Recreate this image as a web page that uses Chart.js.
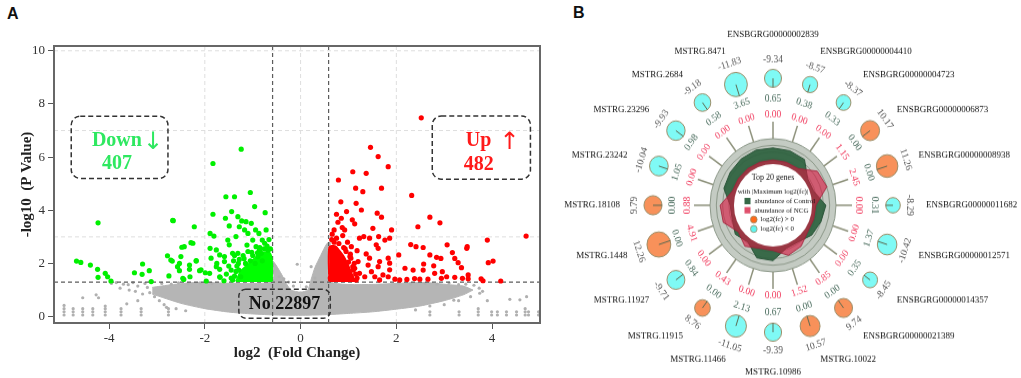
<!DOCTYPE html>
<html>
<head>
<meta charset="utf-8">
<script src="https://cdn.jsdelivr.net/npm/chart.js@4/dist/chart.umd.min.js"></script>
<style>
  html, body { margin: 0; padding: 0; background: #fff; width: 1021px; height: 378px; overflow: hidden; }
  .tag { position: absolute; font: bold 16px "Liberation Sans", Arial, sans-serif; color: #111; }
  #volcano { position: absolute; left: 0; top: 0; }
  #radial { position: absolute; left: 560px; top: 0; transform: scaleY(1.058); transform-origin: 0 0; }
</style>
</head>
<body>
<div class="tag" style="left:7px;top:5px">A</div>
<div class="tag" style="left:573px;top:4px">B</div>
<canvas id="volcano" width="550" height="378"></canvas>
<canvas id="radial" width="461" height="357"></canvas>
<script>
// ---------- panel A : volcano plot ----------
let xTicks = [-4, -2, 0, 2, 4];
let yTicks = [0, 2, 4, 6, 8, 10];
let xLimits = [-5.15, 5.0];
let yLimits = [-0.24, 10.18];
let gridX = [-2, 0, 2];
let gridY = [3, 7, 10];
let fcCut = 0.585; // log2(1.5)
let pCut = 1.301; // -log10(0.05)
let nDown = 407;
let nUp = 482;
let nNo = 22897;

let downPts = [
  [-4.68, 2.09], [-4.59, 2.04], [-4.39, 1.94], [-4.23, 3.53], [-4.24, 1.78], [-4.23, 1.48],
  [-4.08, 1.63], [-4.03, 1.5], [-3.96, 1.34], [-3.47, 1.65], [-3.3, 1.98], [-3.31, 1.59],
  [-3.16, 1.73], [-3.12, 1.32], [-2.78, 2.29], [-2.75, 1.53], [-2.67, 3.62], [-2.68, 2.09],
  [-2.53, 2.0], [-2.53, 1.73], [-2.48, 2.61], [-2.44, 1.4], [-2.32, 1.78], [-2.31, 1.5],
  [-2.29, 2.78], [-2.22, 3.38], [-2.18, 2.09], [-2.11, 1.73], [-1.99, 1.65], [-1.97, 1.34],
  [-1.89, 3.13], [-1.83, 3.85], [-1.83, 5.76], [-1.81, 3.03], [-1.76, 2.51], [-1.75, 2.0],
  [-1.69, 1.78], [-1.68, 1.48], [-1.59, 2.26], [-1.57, 3.7], [-1.56, 4.51], [-1.52, 2.88],
  [-1.49, 3.41], [-1.44, 3.95], [-1.42, 2.38], [-1.38, 4.51], [-1.35, 3.01], [-1.31, 3.76],
  [-1.29, 1.75], [-1.28, 3.38], [-1.24, 6.3], [-1.23, 3.6], [-1.17, 3.26], [-1.14, 3.57],
  [-1.12, 2.69], [-1.1, 3.13], [-1.05, 4.67], [-1.03, 3.51], [-1.0, 2.88], [-0.96, 4.14],
  [-0.94, 3.26], [-0.93, 2.63], [-0.89, 2.26], [-0.87, 3.13], [-0.82, 2.38], [-0.8, 2.88],
  [-0.75, 2.76], [-0.74, 3.91], [-0.72, 3.26], [-2.66, 3.61], [-2.43, 2.63], [-1.89, 2.57],
  [-1.49, 2.7], [-2.25, 2.76], [-1.69, 2.32], [-1.31, 2.38], [-2.5, 2.26], [-2.18, 2.11],
  [-1.87, 2.2], [-1.59, 2.07], [-2.57, 1.88], [-2.32, 1.94], [-2.08, 1.76], [-1.9, 1.63],
  [-1.76, 1.88], [-1.69, 1.5], [-2.71, 2.13], [-2.46, 1.44], [-1.55, 1.6], [-1.5, 1.9],
  [-1.45, 1.45], [-1.4, 2.1], [-1.35, 1.7], [-1.3, 2.0], [-1.25, 1.5], [-1.2, 2.3],
  [-1.15, 2.0], [-1.1, 2.45], [-1.05, 2.1], [-1.0, 2.3], [-0.95, 2.0], [-0.9, 2.4],
  [-0.85, 2.6], [-0.8, 2.1], [-0.7, 2.65], [-0.66, 2.9], [-0.63, 2.55], [-1.6, 1.35],
  [-1.45, 1.75], [-1.38, 2.3], [-1.42, 1.38], [-1.38, 1.52], [-1.33, 1.9], [-1.28, 2.15],
  [-1.18, 2.18], [-1.02, 2.42], [-0.86, 2.5], [-0.76, 2.55], [-0.68, 2.5]
];

let upPts = [
  [2.52, 7.48], [1.46, 6.37], [1.62, 6.02], [1.83, 5.64], [1.09, 5.45], [1.37, 5.39],
  [0.79, 5.14], [1.15, 4.83], [1.3, 4.7], [1.69, 4.83], [2.32, 4.56], [0.84, 4.32],
  [1.16, 4.26], [0.85, 3.7], [0.96, 3.95], [1.27, 4.01], [1.6, 3.89], [1.69, 3.74],
  [1.08, 3.64], [1.13, 3.49], [1.51, 3.32], [1.9, 3.26], [2.45, 3.38], [0.7, 3.26],
  [0.92, 3.26], [1.23, 2.95], [1.32, 3.01], [1.44, 2.95], [1.63, 3.01], [1.76, 2.88],
  [1.86, 2.95], [2.3, 2.71], [2.41, 2.63], [2.56, 2.6], [1.06, 2.63], [1.18, 2.48],
  [1.58, 2.7], [1.62, 2.57], [1.37, 2.36], [1.03, 2.26], [1.2, 2.07], [1.44, 2.2],
  [1.65, 2.07], [1.83, 2.2], [1.86, 2.01], [2.05, 2.32], [2.57, 1.98], [1.09, 1.88],
  [1.41, 1.94], [1.62, 1.88], [1.48, 1.69], [1.86, 1.76], [2.18, 1.82], [1.23, 1.63],
  [1.34, 1.5], [1.55, 1.5], [1.72, 1.57], [1.83, 1.5], [1.97, 1.41], [2.07, 1.38],
  [2.38, 1.43], [2.49, 1.41], [1.06, 1.5], [1.16, 1.38], [0.99, 1.69], [1.65, 1.38],
  [2.7, 3.74], [2.91, 3.53], [3.06, 2.7], [3.48, 2.63], [3.9, 2.88], [4.71, 3.03],
  [3.17, 2.41], [3.92, 2.03], [4.02, 2.09], [2.7, 2.32], [2.84, 2.23], [2.93, 2.19],
  [3.22, 2.19], [3.29, 2.03], [3.36, 1.84], [2.78, 1.91], [2.96, 1.69], [2.8, 1.63],
  [3.05, 1.5], [3.22, 1.48], [3.38, 1.44], [3.5, 1.57], [3.5, 1.42], [3.77, 1.42],
  [3.81, 1.35], [4.18, 1.34], [2.66, 1.41], [2.94, 1.44], [3.47, 2.57], [2.22, 1.4],
  [2.56, 1.75], [2.35, 1.75], [0.62, 1.45], [0.65, 2.9], [0.7, 2.8], [0.75, 2.95],
  [0.8, 2.75], [0.9, 2.6], [0.95, 2.45], [1.0, 2.05], [1.05, 2.2], [1.1, 1.75],
  [1.12, 2.0], [1.15, 1.6], [0.88, 3.05], [0.98, 2.8], [0.66, 3.1], [0.78, 3.55],
  [0.87, 3.35], [0.75, 3.85], [1.18, 1.45], [1.13, 1.82], [1.04, 2.35], [0.93, 2.55]
];

let noPts = [
  [-4.94, 0.06], [-4.94, 0.18], [-4.94, 0.3], [-4.94, 0.42], [-4.75, 0.06], [-4.75, 0.18],
  [-4.75, 0.3], [-4.55, 0.06], [-4.55, 0.18], [-4.55, 0.3], [-4.34, 0.06], [-4.34, 0.18],
  [-4.34, 0.3], [-4.08, 0.06], [-4.08, 0.18], [-4.08, 0.3], [-4.08, 0.4], [-3.75, 0.06],
  [-3.75, 0.18], [-3.75, 0.3], [-3.33, 0.06], [-3.33, 0.18], [-3.33, 0.3], [-2.76, 0.06],
  [-2.76, 0.18], [-2.76, 0.3], [2.7, 0.06], [2.7, 0.18], [3.31, 0.06], [3.31, 0.18],
  [3.71, 0.06], [3.71, 0.18], [3.71, 0.3], [3.99, 0.06], [3.99, 0.18], [4.11, 0.06],
  [4.11, 0.18], [4.3, 0.06], [4.3, 0.18], [4.51, 0.06], [4.51, 0.18], [4.69, 0.06],
  [4.69, 0.18], [4.69, 0.3], [4.76, 0.06], [4.76, 0.18], [4.97, 0.06], [4.97, 0.18],
  [-4.55, 0.71], [-4.22, 0.71], [-4.27, 0.82], [-3.63, 0.48], [-3.77, 1.07], [-3.58, 1.0],
  [-3.85, 1.28], [-3.6, 1.2], [-3.4, 1.15], [-3.3, 0.85], [-3.2, 1.1], [-3.15, 0.9],
  [-3.25, 1.25], [-3.45, 0.95], [-2.95, 0.6], [-3.4, 0.6], [-2.85, 0.45], [-3.05, 0.75],
  [-3.5, 1.28], [-3.7, 1.22], [-3.95, 1.25], [4.58, 0.63], [4.37, 0.65], [4.72, 0.75],
  [3.73, 1.07], [3.74, 0.88], [3.9, 0.6], [3.62, 1.18], [3.45, 1.22], [3.55, 0.75],
  [3.2, 0.62], [3.8, 0.95], [-0.07, 1.97], [0.22, 1.88], [-0.45, 1.5], [-0.35, 1.42],
  [0.3, 1.45], [0.12, 1.12], [-0.15, 1.15], [-0.25, 1.3], [-2.9, 1.25], [-2.7, 1.22],
  [-2.55, 1.27], [-2.35, 1.24], [-2.1, 1.27], [-1.85, 1.25], [2.05, 1.26], [2.3, 1.23],
  [2.6, 1.25], [2.85, 1.22], [3.1, 1.26], [3.3, 1.2], [-2.8, 0.35], [-2.6, 0.3],
  [-2.4, 0.22], [2.4, 0.25], [2.7, 0.4], [3.0, 0.45], [3.3, 0.6]
];

// outline of the dense grey cloud (upper and lower edge)
let noCloudTop = [
  [-3.1, 1.1], [-2.7, 1.2], [-2.2, 1.28], [-0.585, 1.3], [-0.585, 2.1], [-0.5, 1.9],
  [-0.4, 1.6], [-0.3, 1.25], [-0.2, 1.0], [0.0, 0.92], [0.15, 1.0], [0.22, 1.4],
  [0.3, 1.85], [0.42, 2.3], [0.55, 2.75], [0.62, 2.8], [0.62, 1.3], [2.6, 1.28],
  [3.1, 1.2], [3.4, 1.15], [3.6, 1.0]
];
let noCloudBottom = [
  [-3.1, 0.85], [-2.5, 0.5], [-2.0, 0.3], [-1.5, 0.17], [-1.0, 0.1], [-0.5, 0.06],
  [0.0, 0.05], [0.5, 0.07], [1.0, 0.12], [1.5, 0.18], [2.0, 0.28], [2.5, 0.4],
  [3.0, 0.6], [3.4, 0.82], [3.6, 1.0]
];
// dense cores of the coloured clouds (upper edge, filled down to the p cut)
let downCore = [
  [-1.35, 1.32], [-1.25, 1.7], [-1.1, 1.95], [-0.95, 2.2], [-0.8, 2.4], [-0.65, 2.4],
  [-0.6, 2.1], [-0.6, 1.32]
];
let upCore = [
  [0.6, 1.32], [0.6, 2.6], [0.72, 2.65], [0.82, 2.45], [0.92, 2.2], [1.0, 1.9],
  [1.08, 1.55], [1.12, 1.32]
];

// ---------- panel B : top 20 genes ----------
let genes = [
  "ENSBGRG00000002839", "ENSBGRG00000004410", "ENSBGRG00000004723", "ENSBGRG00000006873",
  "ENSBGRG00000008938", "ENSBGRG00000011682", "ENSBGRG00000012571", "ENSBGRG00000014357",
  "ENSBGRG00000021389", "MSTRG.10022", "MSTRG.10986", "MSTRG.11466", "MSTRG.11915",
  "MSTRG.11927", "MSTRG.1448", "MSTRG.18108", "MSTRG.23242", "MSTRG.23296", "MSTRG.2684",
  "MSTRG.8471"
];
let log2fc = [-9.34, -8.57, -8.37, 10.17, 11.26, -8.29, -10.42, -8.45, 9.74, 10.57,
  -9.39, -11.05, 8.76, -9.71, 12.26, 9.79, -10.04, -9.93, -9.18, -11.83];
let ctrlAbund = [0.65, 0.38, 0.33, 0.0, 0.0, 0.31, 1.37, 0.35, 0.0, 0.0,
  0.67, 2.13, 0.0, 0.84, 0.0, 0.0, 1.05, 0.98, 0.58, 3.65];
let ncgAbund = [0.0, 0.0, 0.0, 1.15, 2.45, 0.0, 0.0, 0.0, 0.85, 1.52,
  0.0, 0.0, 0.43, 0.0, 4.91, 0.88, 0.0, 0.0, 0.0, 0.0];
// polygon levels as drawn in the rings (0 = inner hub edge, 4 = outer ring)
let ctrlRadar = [2.6, 2.6, 2.5, 0.8, 0.8, 2.4, 2.0, 1.6, 0.8, 0.8,
  2.3, 2.3, 0.8, 1.4, 0.8, 0.8, 2.2, 2.4, 2.6, 2.7];
let ncgRadar = [0.8, 0.8, 0.8, 2.7, 3.0, 0.8, 0.8, 0.8, 1.6, 1.9,
  0.8, 0.8, 1.6, 0.8, 2.3, 2.4, 0.8, 0.8, 0.8, 0.8];

let serif = '"Liberation Serif", "Times New Roman", serif';

let xy = (arr) => arr.map((p) => ({ x: p[0], y: p[1] }));

let lineSet = (pts, color, dash, width, order) => {
  return {
    type: "line",
    data: xy(pts),
    showLine: true,
    borderColor: color,
    borderWidth: width,
    borderDash: dash,
    pointRadius: 0,
    fill: false,
    tension: 0,
    order: order,
  };
};

let roundBox = (ctx, x0, y0, x1, y1, r) => {
  ctx.beginPath();
  ctx.moveTo(x0 + r, y0);
  ctx.lineTo(x1 - r, y0);
  ctx.arcTo(x1, y0, x1, y0 + r, r);
  ctx.lineTo(x1, y1 - r);
  ctx.arcTo(x1, y1, x1 - r, y1, r);
  ctx.lineTo(x0 + r, y1);
  ctx.arcTo(x0, y1, x0, y1 - r, r);
  ctx.lineTo(x0, y0 + r);
  ctx.arcTo(x0, y0, x0 + r, y0, r);
  ctx.closePath();
};

// note boxes, in axis units
let noteBoxes = [
  { x0: -4.79, x1: -2.77, y0: 7.54, y1: 5.2, word: "Down", arrow: "\u2193", gap: 1, count: nDown, color: "#2ee860" },
  { x0: 2.75, x1: 4.8, y0: 7.55, y1: 5.17, word: "Up", arrow: "\u2191", gap: 8, count: nUp, color: "#ff1a1a" },
];

let volcanoNotes = {
  id: "volcanoNotes",
  afterDatasetsDraw(chart) {
    let { ctx, chartArea: a } = chart;
    let sx = chart.scales.x;
    let sy = chart.scales.y;
    ctx.save();
    ctx.strokeStyle = "#676767";
    ctx.lineWidth = 2;
    ctx.strokeRect(a.left, a.top, a.right - a.left, a.bottom - a.top);

    ctx.setLineDash([5, 3]);
    ctx.lineWidth = 1.5;
    ctx.strokeStyle = "#333";
    for (const b of noteBoxes) {
      let x0 = sx.getPixelForValue(b.x0), x1 = sx.getPixelForValue(b.x1);
      let y0 = sy.getPixelForValue(b.y0), y1 = sy.getPixelForValue(b.y1);
      roundBox(ctx, x0, y0, x1, y1, 9);
      ctx.stroke();
      let mid = (x0 + x1) / 2 - 2.7;
      let h = y1 - y0;
      ctx.fillStyle = b.color;
      ctx.textAlign = "center";
      ctx.textBaseline = "alphabetic";
      ctx.font = "bold 20px " + serif;
      let w = ctx.measureText(b.word).width;
      ctx.fillText(b.word, mid, y0 + h * 0.48);
      ctx.fillText(String(b.count), mid, y0 + h * 0.855);
      ctx.textAlign = "left";
      ctx.font = '24px "DejaVu Sans", sans-serif';
      ctx.fillText(b.arrow, mid + w / 2 + b.gap, y0 + h * 0.52);
    }
    // non-significant box
    let nx0 = sx.getPixelForValue(-1.29), nx1 = sx.getPixelForValue(0.62);
    let ny0 = sy.getPixelForValue(1.03), ny1 = sy.getPixelForValue(-0.06);
    roundBox(ctx, nx0, ny0, nx1, ny1, 7);
    ctx.stroke();
    ctx.setLineDash([]);
    ctx.fillStyle = "#111";
    ctx.font = "bold 18px " + serif;
    ctx.textAlign = "center";
    ctx.textBaseline = "middle";
    ctx.fillText("No " + nNo, (nx0 + nx1) / 2, (ny0 + ny1) / 2 + 1);
    ctx.restore();
  },
};

let volcanoSets = [];
for (const v of gridX) {
  volcanoSets.push(lineSet([[v, yLimits[0]], [v, yLimits[1]]], "#dedede", [4, 3], 1, 40));
}
for (const v of gridY) {
  volcanoSets.push(lineSet([[xLimits[0], v], [xLimits[1], v]], "#dedede", [4, 3], 1, 40));
}
volcanoSets.push({
  type: "line", data: xy(noCloudTop), showLine: true, borderColor: "#b5b5b5", borderWidth: 1,
  pointRadius: 0, fill: "+1", backgroundColor: "#b5b5b5", tension: 0.2, order: 30,
});
volcanoSets.push({
  type: "line", data: xy(noCloudBottom), showLine: true, borderColor: "#b5b5b5", borderWidth: 1,
  pointRadius: 0, fill: false, tension: 0.2, order: 31,
});
volcanoSets.push({
  type: "scatter", data: xy(noPts), pointRadius: 1.6, backgroundColor: "#b0b0b0", borderWidth: 0, order: 25,
});
volcanoSets.push(lineSet([[-fcCut, yLimits[0]], [-fcCut, yLimits[1]]], "#5c5c5c", [4, 3], 1.2, 10));
volcanoSets.push(lineSet([[fcCut, yLimits[0]], [fcCut, yLimits[1]]], "#5c5c5c", [4, 3], 1.2, 10));
volcanoSets.push(lineSet([[xLimits[0], pCut], [xLimits[1], pCut]], "#5c5c5c", [4, 3], 1.2, 10));
volcanoSets.push({
  type: "line", data: xy(downCore), showLine: true, borderColor: "#00ff00", borderWidth: 2,
  pointRadius: 0, fill: "+1", backgroundColor: "#00ff00", tension: 0.3, order: 6,
});
volcanoSets.push(lineSet([[downCore[0][0], pCut], [downCore[downCore.length - 1][0], pCut]], "rgba(0,0,0,0)", [], 0, 7));
volcanoSets.push({
  type: "line", data: xy(upCore), showLine: true, borderColor: "#ff0000", borderWidth: 2,
  pointRadius: 0, fill: "+1", backgroundColor: "#ff0000", tension: 0.3, order: 6,
});
volcanoSets.push(lineSet([[upCore[0][0], pCut], [upCore[upCore.length - 1][0], pCut]], "rgba(0,0,0,0)", [], 0, 7));
volcanoSets.push({
  type: "scatter", data: xy(downPts), pointRadius: 2.6, backgroundColor: "#00f000", borderWidth: 0, order: 2,
});
volcanoSets.push({
  type: "scatter", data: xy(upPts), pointRadius: 2.6, backgroundColor: "#ff0000", borderWidth: 0, order: 2,
});

new Chart(document.getElementById("volcano").getContext("2d"), {
  type: "scatter",
  data: { datasets: volcanoSets },
  options: {
    responsive: false,
    animation: false,
    events: [],
    layout: { padding: { left: 0, right: 10, top: 46, bottom: 0 } },
    plugins: { legend: { display: false }, tooltip: { enabled: false } },
    scales: {
      x: {
        type: "linear",
        min: xLimits[0],
        max: xLimits[1],
        afterBuildTicks: (axis) => {
          axis.ticks = xTicks.map((v) => ({ value: v }));
        },
        afterFit: (axis) => {
          axis.height = 55;
        },
        grid: { drawOnChartArea: false, drawTicks: true, tickLength: 6, tickColor: "#555", color: "#555" },
        border: { display: false },
        ticks: {
          color: "#333",
          padding: 2,
          maxRotation: 0,
          font: { family: serif, size: 13 },
          callback: (v) => String(v),
        },
        title: {
          display: true,
          text: "log2  (Fold Change)",
          color: "#222",
          font: { family: serif, size: 15, weight: "bold" },
          padding: { top: 0, bottom: 16 },
        },
      },
      y: {
        type: "linear",
        min: yLimits[0],
        max: yLimits[1],
        afterBuildTicks: (axis) => {
          axis.ticks = yTicks.map((v) => ({ value: v }));
        },
        afterFit: (axis) => {
          axis.width = 54;
        },
        grid: { drawOnChartArea: false, drawTicks: true, tickLength: 6, tickColor: "#555", color: "#555" },
        border: { display: false },
        ticks: {
          color: "#333",
          padding: 3,
          font: { family: serif, size: 13 },
          callback: (v) => String(v),
        },
        title: {
          display: true,
          text: "-log10  (P Value)",
          color: "#222",
          font: { family: serif, size: 15, weight: "bold" },
          padding: { top: 18, bottom: 0 },
        },
      },
    },
  },
  plugins: [volcanoNotes],
});

// ---------- panel B drawing ----------
let minAbsFc = Math.min(...log2fc.map((v) => Math.abs(v)));
let bubbleR = (v) => 7.3 + (Math.abs(v) - minAbsFc) * 1.17;
let ringBubble = 120;

let drawRot = (ctx, text, pos, rot, color) => {
  ctx.save();
  ctx.translate(pos.x, pos.y);
  ctx.rotate((rot * Math.PI) / 180);
  ctx.fillStyle = color;
  ctx.textAlign = "center";
  ctx.textBaseline = "middle";
  ctx.fillText(text, 0, 0);
  ctx.restore();
};

let radialDecor = {
  id: "radialDecor",
  beforeDatasetsDraw(chart) {
    let s = chart.scales.r;
    let ctx = chart.ctx;
    ctx.save();
    ctx.strokeStyle = "#8e927c";
    ctx.lineWidth = 1.5;
    genes.forEach((g, i) => {
      let p0 = s.getPointPosition(i, s.drawingArea);
      let p1 = s.getPointPosition(i, 79);
      ctx.beginPath();
      ctx.moveTo(p0.x, p0.y);
      ctx.lineTo(p1.x, p1.y);
      ctx.stroke();
    });
    ctx.restore();
  },
  afterDatasetsDraw(chart) {
    let s = chart.scales.r;
    let ctx = chart.ctx;
    let cx = s.xCenter;
    let cy = s.yCenter;
    ctx.save();
    // hub
    ctx.fillStyle = "#fff";
    ctx.beginPath();
    ctx.arc(cx, cy, s.getDistanceFromCenterForValue(0.2), 0, Math.PI * 2);
    ctx.fill();

    // legend inside the hub
    ctx.fillStyle = "#111";
    ctx.textAlign = "center";
    ctx.textBaseline = "middle";
    ctx.font = "8px " + serif;
    ctx.fillText("Top 20 genes", cx, cy - 26.5);
    ctx.font = "7px " + serif;
    ctx.fillText("with |Maximum log2(fc)|", cx, cy - 13.2);
    ctx.textAlign = "left";
    ctx.fillStyle = "#356846";
    ctx.fillRect(cx - 28.5, cy - 7, 6, 6);
    ctx.fillStyle = "#e0506c";
    ctx.fillRect(cx - 28.5, cy + 1.7, 6, 6);
    ctx.fillStyle = "#111";
    ctx.fillText("abundance of Control", cx - 18.5, cy - 4);
    ctx.fillText("abundance of NCG", cx - 18.5, cy + 4.7);
    ctx.fillText("log2(fc) > 0", cx - 12.5, cy + 13.5);
    ctx.fillText("log2(fc) < 0", cx - 12.5, cy + 22.4);
    ctx.strokeStyle = "#9a8c66";
    ctx.lineWidth = 0.8;
    ctx.fillStyle = "#ff6a1a";
    ctx.beginPath();
    ctx.arc(cx - 19.2, cy + 13.5, 3.3, 0, Math.PI * 2);
    ctx.fill();
    ctx.stroke();
    ctx.fillStyle = "#5ff6f2";
    ctx.beginPath();
    ctx.arc(cx - 19.2, cy + 22.4, 3.3, 0, Math.PI * 2);
    ctx.fill();
    ctx.stroke();

    genes.forEach((g, i) => {
      let deg = Math.round((s.getIndexAngle(i) * 180) / Math.PI);
      let rot = deg <= 90 ? deg : deg < 270 ? deg - 180 : deg - 360;
      let fc = log2fc[i];
      let br = bubbleR(fc);
      ctx.font = "9.5px " + serif;
      drawRot(ctx, ncgAbund[i].toFixed(2), s.getPointPosition(i, 85.5), rot, "#f03c5e");
      drawRot(ctx, ctrlAbund[i].toFixed(2), s.getPointPosition(i, 101), rot, "#46695a");

      let c = s.getPointPosition(i, ringBubble);
      ctx.fillStyle = fc > 0 ? "#f8915a" : "#7ffaf5";
      ctx.strokeStyle = "#9c8e68";
      ctx.lineWidth = 1;
      ctx.beginPath();
      ctx.arc(c.x, c.y, br, 0, Math.PI * 2);
      ctx.fill();
      ctx.stroke();
      let e = s.getPointPosition(i, ringBubble - br);
      ctx.strokeStyle = "#5d6b52";
      ctx.beginPath();
      ctx.moveTo(c.x, c.y);
      ctx.lineTo(e.x, e.y);
      ctx.stroke();

      drawRot(ctx, fc.toFixed(2), s.getPointPosition(i, ringBubble + br + 9), rot, "#555");

      // gene name
      ctx.font = "9px " + serif;
      ctx.fillStyle = "#111";
      let p;
      if (deg === 0) {
        p = s.getPointPosition(i, 157);
        ctx.textAlign = "center";
        ctx.textBaseline = "bottom";
      } else if (deg === 180) {
        p = s.getPointPosition(i, 153);
        ctx.textAlign = "center";
        ctx.textBaseline = "top";
      } else {
        p = s.getPointPosition(i, 153);
        ctx.textAlign = deg < 180 ? "left" : "right";
        ctx.textBaseline = "middle";
      }
      ctx.fillText(g, p.x, p.y);
    });
    ctx.restore();
  },
};

new Chart(document.getElementById("radial").getContext("2d"), {
  type: "radar",
  data: {
    labels: genes,
    datasets: [
      {
        label: "abundance of Control",
        data: ctrlRadar,
        fill: "start",
        backgroundColor: "rgba(46,98,64,0.93)",
        borderColor: "#2c553a",
        borderWidth: 1,
        pointRadius: 0,
        order: 2,
      },
      {
        label: "abundance of NCG",
        data: ncgRadar,
        fill: "start",
        backgroundColor: "rgba(215,25,65,0.62)",
        borderColor: "rgba(160,30,55,0.8)",
        borderWidth: 1,
        pointRadius: 0,
        order: 1,
      },
    ],
  },
  options: {
    responsive: false,
    animation: false,
    events: [],
    layout: { padding: { left: 150.5, right: 184.5, top: 131, bottom: 100 } },
    plugins: { legend: { display: false }, tooltip: { enabled: false } },
    scales: {
      r: {
        min: -6,
        max: 4,
        startAngle: 0,
        backgroundColor: "#c4cbc3",
        ticks: { display: false, stepSize: 1 },
        pointLabels: { display: false },
        angleLines: { display: false },
        grid: { circular: true, color: "#8d998a", lineWidth: 1 },
      },
    },
  },
  plugins: [radialDecor],
});
</script>
</body>
</html>
